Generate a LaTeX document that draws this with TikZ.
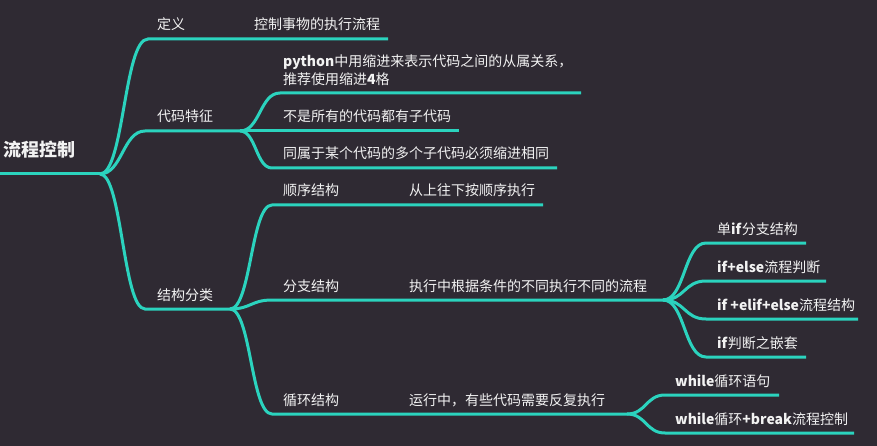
\documentclass[tikz,border=0pt]{standalone}
\usepackage{fontspec}
\setmainfont{Noto Sans CJK SC}
\definecolor{bg}{HTML}{2F2A33}
\definecolor{mmline}{HTML}{2BD3BE}
\definecolor{txt}{HTML}{F2F2F2}
\begin{document}
\begin{tikzpicture}[x=1pt,y=-1pt,
  lbl/.style={anchor=base west, inner sep=0pt, text=txt, font=\fontsize{14}{18}\selectfont, align=left},
  rootlbl/.style={anchor=base west, inner sep=0pt, text=txt, font=\fontsize{18}{22}\selectfont\bfseries},
  edge/.style={draw=mmline, line width=3pt}]
\fill[bg] (0,0) rectangle (877,446);
\useasboundingbox (0,0) rectangle (877,446);

% coordinates
\coordinate (R0) at (0,174);
\coordinate (R) at (100,174);
\coordinate (D1) at (148,39);   \coordinate (D2) at (388,39);
\coordinate (C1) at (145,131);  \coordinate (K) at (240,131);
\coordinate (S1) at (145,309);  \coordinate (J) at (230,309);
\coordinate (P1) at (280,93);   \coordinate (P2) at (581,93);
\coordinate (N2) at (459,131);
\coordinate (T1) at (272,168);  \coordinate (T2) at (557,168);
\coordinate (Q1) at (272,205);  \coordinate (Q2) at (543,205);
\coordinate (B1) at (272,300);  \coordinate (F) at (663,300);
\coordinate (X1) at (272,414);  \coordinate (L) at (627,414);
\coordinate (F1a) at (706,243); \coordinate (F1b) at (806,243);
\coordinate (F2a) at (706,281); \coordinate (F2b) at (826,281);
\coordinate (F3a) at (706,319); \coordinate (F3b) at (858,319);
\coordinate (F4a) at (706,357); \coordinate (F4b) at (806,357);
\coordinate (L1a) at (665,395); \coordinate (L1b) at (779,395);
\coordinate (L2a) at (665,433); \coordinate (L2b) at (854,433);

% connectors
\draw[edge] (R0) -- (R);
\draw[edge] (R) .. controls +(24,0) and +(-24,0) .. (D1) -- (D2);
\draw[edge] (R) .. controls +(22,0) and +(-22,0) .. (C1) -- (K);
\draw[edge] (R) .. controls +(22,0) and +(-22,0) .. (S1) -- (J);
\draw[edge] (K) .. controls +(20,0) and +(-20,0) .. (P1) -- (P2);
\draw[edge] (K) -- (N2);
\draw[edge] (K) .. controls +(16,0) and +(-16,0) .. (T1) -- (T2);
\draw[edge] (J) .. controls +(21,0) and +(-21,0) .. (Q1) -- (Q2);
\draw[edge] (J) .. controls +(21,0) and +(-21,0) .. (B1) -- (F);
\draw[edge] (J) .. controls +(21,0) and +(-21,0) .. (X1) -- (L);
\draw[edge] (F) .. controls +(22,0) and +(-22,0) .. (F1a) -- (F1b);
\draw[edge] (F) .. controls +(22,0) and +(-22,0) .. (F2a) -- (F2b);
\draw[edge] (F) .. controls +(22,0) and +(-22,0) .. (F3a) -- (F3b);
\draw[edge] (F) .. controls +(22,0) and +(-22,0) .. (F4a) -- (F4b);
\draw[edge] (L) .. controls +(19,0) and +(-19,0) .. (L1a) -- (L1b);
\draw[edge] (L) .. controls +(19,0) and +(-19,0) .. (L2a) -- (L2b);

% labels
\node[rootlbl] (root) at (3,157) {流程控制};
\node[lbl] (def) at (157,30) {定义};
\node[lbl] (defc) at (254,30) {控制事物的执行流程};
\node[lbl] (code) at (157,122) {代码特征};
\node[lbl] (py) at (283,85) {\textbf{python}中用缩进来表示代码之间的从属关系，\\推荐使用缩进\textbf{4}格};
\node[lbl] (sub) at (283,122) {不是所有的代码都有子代码};
\node[lbl] (same) at (283,159) {同属于某个代码的多个子代码必须缩进相同};
\node[lbl] (cls) at (157,300) {结构分类};
\node[lbl] (seq) at (283,196) {顺序结构};
\node[lbl] (seqc) at (409,196) {从上往下按顺序执行};
\node[lbl] (br) at (283,291) {分支结构};
\node[lbl] (brc) at (409,291) {执行中根据条件的不同执行不同的流程};
\node[lbl] (lp) at (283,405) {循环结构};
\node[lbl] (lpc) at (409,405) {运行中，有些代码需要反复执行};
\node[lbl] (if1) at (717,234) {单\textbf{if}分支结构};
\node[lbl] (if2) at (717,272) {\textbf{if+else}流程判断};
\node[lbl] (if3) at (717,310) {\textbf{if +elif+else}流程结构};
\node[lbl] (if4) at (717,348) {\textbf{if}判断之嵌套};
\node[lbl] (wh1) at (675,386) {\textbf{while}循环语句};
\node[lbl] (wh2) at (675,424) {\textbf{while}循环\textbf{+break}流程控制};
\end{tikzpicture}
\end{document}
